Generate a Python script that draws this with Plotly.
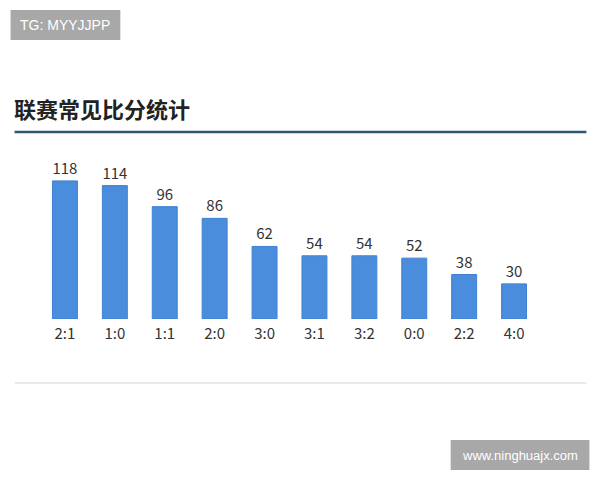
import plotly.graph_objects as go

# scores and how often they occurred
scores = ['2:1', '1:0', '1:1', '2:0', '3:0', '3:1', '3:2', '0:0', '2:2', '4:0']
counts = [118, 114, 96, 86, 62, 54, 54, 52, 38, 30]

title_text = '联赛常见比分统计'
tag_text = 'TG: MYYJJPP'
site_text = 'www.ninghuajx.com'

# the page body has an 8px margin, so screen positions are offset by it
def px(x):
    return (x - 39.5) / 500

def py(y):
    return (319 - y) / 169

fig = go.Figure()

fig.add_trace(go.Bar(
    x=scores,
    y=counts,
    text=counts,
    textposition='outside',
    cliponaxis=False,
    width=0.5,
    marker=dict(color='#4a8ddc', line=dict(color='#3f82d2', width=1)),
    textfont=dict(size=15, color='#333333'),
    hoverinfo='x+y',
))

fig.update_layout(
    width=600, height=480,
    margin=dict(l=31.5, r=68.5, t=142, b=169),
    paper_bgcolor='white',
    plot_bgcolor='white',
    showlegend=False,
    font=dict(family='Microsoft YaHei, Noto Sans CJK SC, sans-serif', color='#333333'),
)

fig.update_xaxes(
    range=[-0.5, 9.5],
    showgrid=False, zeroline=False, showline=False,
    ticks='', ticklabelstandoff=4,
    tickfont=dict(size=15, color='#333333'),
)
fig.update_yaxes(
    range=[0, 144.4],
    visible=False,
)

# title and divider lines
fig.add_annotation(
    text='<b>' + title_text + '</b>',
    xref='paper', yref='paper',
    x=px(11), y=py(108),
    xanchor='left', yanchor='middle', showarrow=False,
    font=dict(size=22, color='#222222', family='Noto Sans CJK SC'),
)
fig.add_shape(
    type='line', xref='paper', yref='paper',
    x0=px(14), x1=px(587), y0=py(132), y1=py(132),
    line=dict(color='#2d5777', width=2.5),
)
fig.add_shape(
    type='line', xref='paper', yref='paper',
    x0=px(14), x1=px(587), y0=py(383), y1=py(383),
    line=dict(color='#d6d6d6', width=1.2),
)

# watermark boxes
fig.add_shape(
    type='rect', xref='paper', yref='paper',
    x0=px(10), x1=px(120), y0=py(40), y1=py(10),
    fillcolor='#a8a8a8', line=dict(width=0),
)
fig.add_annotation(
    text=tag_text, xref='paper', yref='paper',
    x=px(65), y=py(25),
    showarrow=False, xanchor='center', yanchor='middle',
    font=dict(size=14, color='white', family='Liberation Sans'),
)
fig.add_shape(
    type='rect', xref='paper', yref='paper',
    x0=px(451), x1=px(590), y0=py(470), y1=py(440),
    fillcolor='#a8a8a8', line=dict(width=0),
)
fig.add_annotation(
    text=site_text, xref='paper', yref='paper',
    x=px(520.5), y=py(455),
    showarrow=False, xanchor='center', yanchor='middle',
    font=dict(size=13, color='white', family='Liberation Sans'),
)

fig.write_html('out.html')
